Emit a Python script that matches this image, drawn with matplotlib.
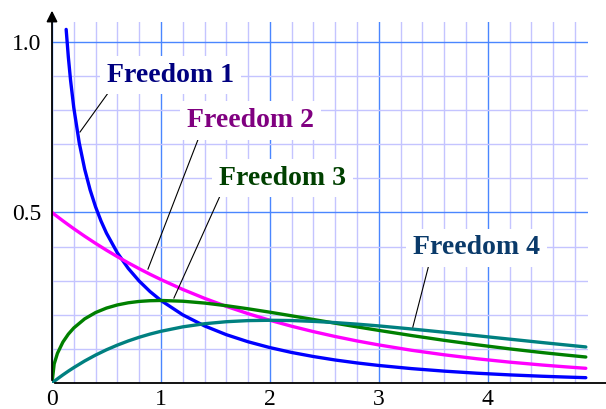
import matplotlib
matplotlib.use("Agg")
import matplotlib.pyplot as plt
from matplotlib.ticker import MultipleLocator

# valores (densidad chi-cuadrado, 1 a 4 grados de libertad)
x_comun = [0, 0.02, 0.05, 0.1, 0.15, 0.2, 0.3, 0.4, 0.5, 0.6, 0.7, 0.8, 0.9, 1.0,
           1.2, 1.4, 1.6, 1.8, 2.0, 2.2, 2.4, 2.6, 2.8, 3.0, 3.3, 3.6, 3.9, 4.2,
           4.5, 4.7, 4.9]
x_libertad1 = [0.13, 0.15, 0.17, 0.2, 0.25, 0.3, 0.35, 0.4, 0.45, 0.5, 0.6, 0.7,
               0.8, 0.9, 1.0, 1.2, 1.4, 1.6, 1.8, 2.0, 2.2, 2.4, 2.6, 2.8, 3.0,
               3.3, 3.6, 3.9, 4.2, 4.5, 4.7, 4.9]
y_libertad1 = [1.0368, 0.9556, 0.8887, 0.8072, 0.7041, 0.6269, 0.5661, 0.5164,
               0.4749, 0.4394, 0.3816, 0.3360, 0.2990, 0.2681, 0.2420, 0.1999,
               0.1674, 0.1417, 0.1209, 0.1038, 0.0895, 0.0776, 0.0674, 0.0588,
               0.0514, 0.0422, 0.0348, 0.0287, 0.0238, 0.0198, 0.0176, 0.0156]
y_libertad2 = [0.5, 0.4950, 0.4877, 0.4756, 0.4639, 0.4524, 0.4304, 0.4094, 0.3894,
               0.3704, 0.3523, 0.3352, 0.3188, 0.3033, 0.2744, 0.2483, 0.2247,
               0.2033, 0.1839, 0.1664, 0.1506, 0.1363, 0.1233, 0.1116, 0.0960,
               0.0827, 0.0711, 0.0612, 0.0527, 0.0477, 0.0431]
y_libertad3 = [0, 0.0559, 0.0870, 0.1200, 0.1433, 0.1614, 0.1881, 0.2066, 0.2197,
               0.2289, 0.2352, 0.2392, 0.2413, 0.2420, 0.2398, 0.2344, 0.2267,
               0.2176, 0.2076, 0.1970, 0.1862, 0.1753, 0.1646, 0.1542, 0.1392,
               0.1251, 0.1121, 0.1001, 0.0892, 0.0825, 0.0762]
y_libertad4 = [0, 0.0050, 0.0122, 0.0238, 0.0348, 0.0452, 0.0646, 0.0819, 0.0974,
               0.1111, 0.1233, 0.1341, 0.1435, 0.1516, 0.1646, 0.1738, 0.1797,
               0.1830, 0.1839, 0.1831, 0.1807, 0.1771, 0.1726, 0.1674, 0.1584,
               0.1488, 0.1387, 0.1286, 0.1186, 0.1121, 0.1057]

etiquetas = ["Freedom 1", "Freedom 2", "Freedom 3", "Freedom 4"]
pos_etiquetas = [(1.087, 0.903), (1.821, 0.771), (2.115, 0.601), (3.899, 0.396)]
lineas_guia = [((0.257, 0.736), (0.541, 0.862)),
               ((0.881, 0.334), (1.349, 0.721)),
               ((1.119, 0.249), (1.550, 0.554)),
               ((3.312, 0.164), (3.459, 0.346))]
colores_curva = ["#0000ff", "#ff00ff", "#008000", "#008080"]
colores_texto = ["#000080", "#800080", "#004000", "#0a3a6a"]

plt.rcParams["font.family"] = ["Liberation Serif", "DejaVu Serif"]

fig = plt.figure(figsize=(6.06, 4.09), dpi=100)
ax = fig.add_axes([52 / 606, 26 / 409, 536 / 606, 361.5 / 409])
ax.set_xlim(0, 4.92)
ax.set_ylim(0, 1.06)

# rejilla fina y rejilla principal
ax.xaxis.set_minor_locator(MultipleLocator(0.2))
ax.yaxis.set_minor_locator(MultipleLocator(0.1))
ax.set_xticks([0, 1, 2, 3, 4])
ax.set_yticks([0.5, 1.0])
ax.set_yticklabels(["0.5", "1.0"])
ax.grid(which="minor", color="#c4c4ff", linewidth=1.0)
ax.grid(which="major", color="#4a86ff", linewidth=1.0)
ax.set_axisbelow(True)
ax.tick_params(which="both", length=0, labelsize=17)
ax.tick_params(axis="x", pad=4)
ax.tick_params(axis="y", pad=8)
for s in ax.spines.values():
    s.set_visible(False)

# ejes con flecha (la del eje x queda cortada por el borde)
ax.annotate("", xy=(5.24, 0), xytext=(0, 0), xycoords="data",
            arrowprops=dict(arrowstyle="-|>", color="black", lw=1.3,
                            mutation_scale=16), annotation_clip=False)
ax.annotate("", xy=(0, 1.10), xytext=(0, 0), xycoords="data",
            arrowprops=dict(arrowstyle="-|>", color="black", lw=1.3,
                            mutation_scale=16), annotation_clip=False)

ax.plot(x_libertad1, y_libertad1, color=colores_curva[0], lw=2.4, solid_capstyle="round", clip_on=False)
ax.plot(x_comun, y_libertad2, color=colores_curva[1], lw=2.4, solid_capstyle="round")
ax.plot(x_comun, y_libertad3, color=colores_curva[2], lw=2.4, solid_capstyle="round")
ax.plot(x_comun, y_libertad4, color=colores_curva[3], lw=2.4, solid_capstyle="round")

for texto, (tx, ty), ((x0, y0), (x1, y1)), c in zip(etiquetas, pos_etiquetas, lineas_guia, colores_texto):
    ax.plot([x0, x1], [y0, y1], color="black", lw=0.8, zorder=4)
    ax.text(tx, ty, texto, color=c, fontsize=20, fontweight="bold",
            ha="center", va="center", zorder=5,
            bbox=dict(facecolor="white", edgecolor="none", pad=5))

fig.savefig("out.png", dpi=100)
